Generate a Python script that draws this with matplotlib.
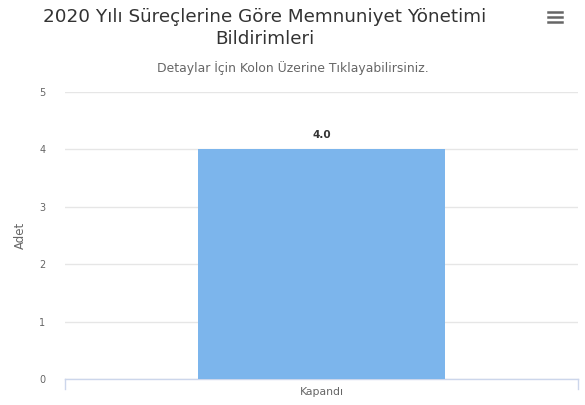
import numpy as np
import matplotlib.pyplot as plt
from matplotlib.lines import Line2D

# data
categories = ["Kapandı"]
values = [4.0]
y_ticks = [0, 1, 2, 3, 4, 5]

title = "2020 Yılı Süreçlerine Göre Memnuniyet Yönetimi\nBildirimleri"
subtitle = "Detaylar İçin Kolon Üzerine Tıklayabilirsiniz."

fig = plt.figure(figsize=(5.85, 4.05), dpi=100)
ax = fig.add_axes([65 / 585, 26 / 405, 513 / 585, 287 / 405])

x = np.arange(len(categories))
ax.bar(x, values, width=0.48, color="#7cb5ec", zorder=3)
for xi, v in zip(x, values):
    ax.text(xi, v + 0.17, f"{v:.1f}", ha="center", va="bottom",
            fontsize=7.5, fontweight="bold", color="#333333", zorder=4)

ax.set_xlim(-0.5, len(categories) - 0.5)
ax.set_ylim(0, 5)
ax.set_yticks(y_ticks)
ax.set_yticklabels([str(t) for t in y_ticks])
ax.set_xticks(x)
ax.set_xticklabels(categories)
ax.grid(axis="y", color="#e6e6e6", linewidth=1, zorder=0)
ax.tick_params(axis="y", length=0, pad=14, labelsize=7, labelcolor="#666666")
ax.tick_params(axis="x", length=0, pad=6, labelsize=7.8, labelcolor="#666666")
for s in ["top", "right", "left"]:
    ax.spines[s].set_visible(False)
ax.spines["bottom"].set_color("#ccd6eb")
ax.spines["bottom"].set_linewidth(1)
ax.set_ylabel("Adet", fontsize=8.5, color="#666666", labelpad=9)

# category boundary ticks (highcharts style)
for bx in [-0.5, len(categories) - 0.5]:
    ax.plot([bx, bx], [0, -0.17], color="#ccd6eb", linewidth=1,
            clip_on=False, transform=ax.transData)

fig.text(0.453, 1 - 8 / 405, title, ha="center", va="top",
         fontsize=13.2, color="#333333", linespacing=1.3)
fig.text(0.501, 1 - 68 / 405, subtitle, ha="center", va="center",
         fontsize=8.9, color="#666666")

# menu icon
for yy in [12, 17, 22]:
    fig.add_artist(Line2D([548 / 585, 562 / 585], [1 - yy / 405, 1 - yy / 405],
                          color="#666666", linewidth=1.8))

fig.savefig("out.png", dpi=100)
